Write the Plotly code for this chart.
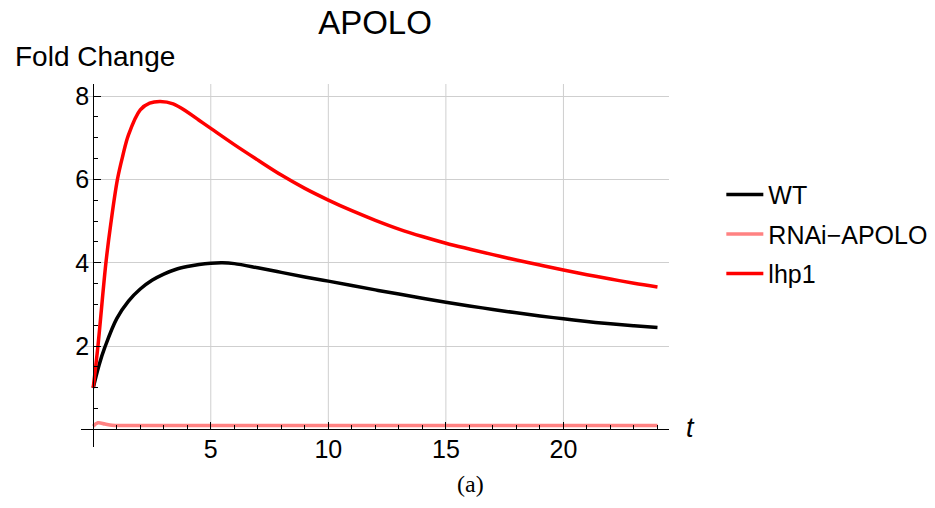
import plotly.graph_objects as go

# Time points (hours) and fold-change values for each genotype
t_wt = [0, 0.25, 0.5, 1, 1.5, 2, 2.5, 3, 3.5, 4, 4.5, 5, 5.5, 6, 7, 8, 9, 10,
        11, 12, 13, 14, 15, 16, 17, 18, 19, 20, 21, 22, 23, 24]
fc_wt = [1.0, 1.55, 1.98, 2.66, 3.08, 3.37, 3.58, 3.73, 3.84, 3.91, 3.96, 3.99, 4.0, 3.98, 3.88, 3.77, 3.66, 3.56,
         3.455, 3.35, 3.25, 3.15, 3.055, 2.965, 2.88, 2.80, 2.725, 2.655, 2.59, 2.535, 2.49, 2.45]

t_rnai = [0, 0.2, 0.5, 0.8, 1.5, 5, 10, 15, 20, 24]
fc_rnai = [0.08, 0.16, 0.13, 0.10, 0.095, 0.095, 0.095, 0.095, 0.095, 0.095]

t_lhp1 = [0, 0.2, 0.54, 0.75, 1.03, 1.25, 1.5, 2.0, 2.4, 2.85, 3.4, 4, 4.5, 5, 6, 7, 8, 9, 10,
          11, 12, 13, 14, 15, 16, 17, 18, 19, 20, 21, 22, 23, 24]
fc_lhp1 = [1.0, 2.0, 4.0, 4.95, 6.0, 6.55, 7.07, 7.67, 7.83, 7.87, 7.815, 7.62, 7.42, 7.225, 6.835, 6.465, 6.105, 5.785, 5.505,
           5.25, 5.02, 4.81, 4.63, 4.47, 4.33, 4.195, 4.065, 3.945, 3.825, 3.715, 3.61, 3.51, 3.42]

x_ticks = [5, 10, 15, 20]
y_ticks = [2, 4, 6, 8]
x_range = [-0.52, 24.49]
y_range = [-0.42, 8.29]

FONT = "Liberation Sans"
GRID = "#cfcfcf"

fig = go.Figure()
series = [
    ("WT", t_wt, fc_wt, "#000000"),
    ("RNAi\u2212APOLO", t_rnai, fc_rnai, "#ff8282"),
    ("lhp1", t_lhp1, fc_lhp1, "#ff0000"),
]
for i, (name, tx, fy, col) in enumerate(series):
    fig.add_trace(go.Scatter(
        x=tx, y=fy, mode="lines", name=name, legendgroup=f"g{i}",
        line=dict(color=col, width=3.5, shape="spline", smoothing=1.0),
    ))

# Vertical grid lines from the axis up to the top of the frame
for xv in x_ticks:
    fig.add_shape(type="line", xref="x", yref="y", x0=xv, x1=xv, y0=0, y1=y_range[1],
                  line=dict(color=GRID, width=1), layer="below")

x_pos = (0 - x_range[0]) / (x_range[1] - x_range[0])
y_pos = (0 - y_range[0]) / (y_range[1] - y_range[0])

fig.update_layout(
    width=935, height=508,
    margin=dict(l=81, r=266, t=84, b=61, autoexpand=False),
    plot_bgcolor="white", paper_bgcolor="white",
    font=dict(family=FONT, color="black", size=25),
    title=dict(text="APOLO", x=0.5, xref="paper", xanchor="center",
               y=1 - 11 / 508, yref="container", yanchor="top",
               font=dict(family=FONT, size=33, color="black")),
    xaxis=dict(
        range=x_range, anchor="free", position=y_pos,
        showline=True, linecolor="black", linewidth=1,
        showgrid=False, zeroline=False,
        tickvals=x_ticks, ticks="inside", ticklen=7, tickcolor="black",
        ticklabelstandoff=-2,
        tickfont=dict(family=FONT, size=25, color="black"),
        minor=dict(dtick=1, tick0=0, ticks="inside", ticklen=4, tickcolor="black", showgrid=False),
    ),
    yaxis=dict(
        range=y_range, anchor="free", position=x_pos,
        showline=True, linecolor="black", linewidth=1,
        showgrid=True, gridcolor=GRID, gridwidth=1, zeroline=False,
        tickvals=y_ticks, ticks="inside", ticklen=7, tickcolor="black",
        ticklabelstandoff=-1,
        tickfont=dict(family=FONT, size=25, color="black"),
        minor=dict(dtick=0.5, tick0=0, ticks="inside", ticklen=4, tickcolor="black", showgrid=False),
    ),
    legend=dict(x=1.089, xanchor="left", y=0.758, yanchor="top",
                font=dict(family=FONT, size=25, color="black"),
                itemwidth=37, tracegroupgap=4, bgcolor="rgba(0,0,0,0)"),
    showlegend=True,
)

fig.add_annotation(text="Fold Change", xref="paper", yref="paper", x=-0.115, y=1.077,
                   xanchor="left", yanchor="middle", showarrow=False,
                   font=dict(family=FONT, size=28, color="black"))
fig.add_annotation(text="<i>t</i>", xref="paper", yref="paper", x=1.025, y=0.052,
                   xanchor="left", yanchor="middle", showarrow=False,
                   font=dict(family=FONT, size=27, color="black"))
fig.add_annotation(text="(a)", xref="paper", yref="paper", x=0.662, y=-0.103,
                   xanchor="center", yanchor="middle", showarrow=False,
                   font=dict(family="Liberation Serif", size=24, color="black"))

fig.write_html("out.html")
